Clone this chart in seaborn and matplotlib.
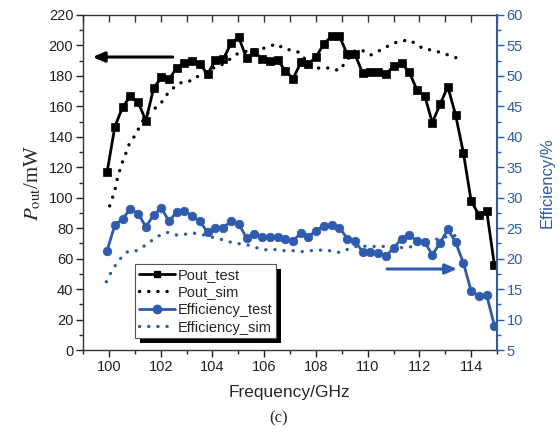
import numpy as np
import pandas as pd
import matplotlib
matplotlib.use("Agg")
import matplotlib.pyplot as plt
from matplotlib.patches import Rectangle
from matplotlib.lines import Line2D
from matplotlib.ticker import MultipleLocator
import seaborn as sns

# ---------------- data ----------------
freq_test = [99.93, 100.23, 100.53, 100.83, 101.13, 101.43, 101.73, 102.03, 102.33, 102.62,
             102.92, 103.22, 103.52, 103.82, 104.12, 104.42, 104.72, 105.02, 105.32, 105.62,
             105.92, 106.22, 106.52, 106.82, 107.12, 107.42, 107.71, 108.01, 108.31, 108.61,
             108.91, 109.21, 109.51, 109.81, 110.11, 110.41, 110.71, 111.01, 111.31, 111.61,
             111.91, 112.21, 112.50, 112.80, 113.10, 113.40, 113.70, 114.00, 114.30, 114.60,
             114.90]
pout_test = [116.7, 146.6, 159.4, 166.8, 162.7, 150.6, 171.9, 179.1, 177.8, 185.4,
             188.7, 189.8, 187.6, 181.3, 190.3, 190.9, 201.4, 205.4, 191.6, 195.9,
             191.1, 189.8, 190.5, 183.4, 178.2, 188.9, 187.6, 192.6, 201.0, 206.2,
             206.2, 194.2, 194.2, 181.7, 182.8, 182.8, 181.0, 186.7, 188.3, 182.4,
             170.7, 166.8, 149.3, 161.4, 172.9, 154.3, 129.6, 97.9, 88.7, 91.5,
             55.8]
eff_test = [21.3, 25.5, 26.5, 28.2, 27.4, 25.2, 27.2, 28.3, 26.1, 27.7,
            27.8, 27.0, 26.1, 24.3, 25.1, 25.1, 26.1, 25.7, 23.4, 24.0,
            23.6, 23.5, 23.6, 23.2, 22.9, 24.2, 23.6, 24.6, 25.4, 25.5,
            25.1, 23.3, 22.9, 21.1, 21.1, 20.9, 20.5, 21.7, 23.3, 23.9,
            22.9, 22.7, 20.6, 22.6, 24.8, 22.7, 19.3, 14.7, 13.8, 14.0,
            9.0]

freq_pout_sim = [100.03, 100.22, 100.33, 100.48, 100.61, 100.77, 101.06, 101.25, 101.51, 101.96,
                 102.28, 102.61, 102.93, 103.19, 103.51, 103.90, 104.35, 104.67, 104.99, 105.25,
                 105.57, 105.90, 106.16, 106.48, 106.80, 107.06, 107.38, 107.70, 108.00, 108.28,
                 108.61, 108.90, 109.21, 109.51, 109.77, 110.12, 110.38, 110.74, 111.06, 111.36,
                 111.61, 111.90, 112.16, 112.48, 112.80, 113.12, 113.41]
pout_sim = [94.6, 104.0, 112.7, 121.5, 127.0, 134.6, 142.3, 148.9, 155.5, 160.9,
            168.6, 174.0, 176.7, 176.7, 180.6, 184.3, 187.2, 190.9, 194.8, 195.9,
            197.0, 197.7, 199.2, 201.0, 197.5, 197.0, 195.3, 188.3, 185.0, 185.4,
            185.0, 183.4, 190.5, 196.6, 197.0, 193.7, 195.9, 199.2, 201.8, 203.0,
            203.6, 200.7, 197.7, 197.0, 195.5, 193.7, 192.0]

freq_eff_sim = [99.90, 100.15, 100.48, 100.74, 101.06, 101.38, 101.70, 102.03, 102.28, 102.61,
                102.93, 103.25, 103.58, 103.90, 104.22, 104.55, 104.87, 105.19, 105.51, 105.83,
                106.16, 106.48, 106.80, 107.12, 107.38, 107.77, 108.16, 108.54, 108.93, 109.32,
                109.64, 110.09, 110.48, 110.86, 111.25, 111.64, 111.96, 112.29, 112.68, 113.06,
                113.41]
eff_sim = [16.2, 18.3, 20.2, 21.2, 21.3, 22.1, 23.1, 24.0, 24.3, 23.9,
           24.0, 24.2, 24.0, 23.6, 23.3, 22.9, 22.5, 22.4, 22.1, 21.6,
           21.4, 21.5, 21.3, 21.3, 21.1, 21.3, 21.4, 21.3, 21.0, 21.7,
           22.1, 22.0, 22.0, 22.0, 21.8, 21.9, 22.6, 22.9, 23.2, 23.6,
           23.8]

series_labels = ["Pout_test", "Pout_sim", "Efficiency_test", "Efficiency_sim"]
x_ticks = [100, 102, 104, 106, 108, 110, 112, 114]
left_ticks = list(range(0, 221, 20))
right_ticks = list(range(5, 61, 5))

df_test = pd.DataFrame({"freq": freq_test, "pout": pout_test, "eff": eff_test})
df_psim = pd.DataFrame({"freq": freq_pout_sim, "pout": pout_sim})
df_esim = pd.DataFrame({"freq": freq_eff_sim, "eff": eff_sim})

# ---------------- style ----------------
sns.set_style("ticks")
plt.rcParams["font.family"] = ["Liberation Sans", "DejaVu Sans"]
plt.rcParams["mathtext.fontset"] = "stix"

BLUE = "#2D5BB0"
BLACK = "#000000"
DOT = (0, (0.05, 2.7))

W, H = 559, 438
fig = plt.figure(figsize=(W / 100, H / 100), dpi=100)
ax = fig.add_axes([83 / W, 1 - 350 / H, (497 - 83) / W, (350 - 15) / H])
ax2 = ax.twinx()

# Pout
sns.lineplot(data=df_test, x="freq", y="pout", ax=ax, color=BLACK, linewidth=2.0,
             marker="s", markersize=5.2, markeredgecolor=BLACK, markeredgewidth=0.5,
             legend=False, zorder=3)
sns.lineplot(data=df_psim, x="freq", y="pout", ax=ax, color=BLACK, linewidth=2.4,
             linestyle=DOT, dash_capstyle="round", legend=False, zorder=2)
# Efficiency
sns.lineplot(data=df_test, x="freq", y="eff", ax=ax2, color=BLUE, linewidth=2.0,
             marker="o", markersize=6.2, markeredgecolor=BLUE, markeredgewidth=0.5,
             legend=False, zorder=3)
sns.lineplot(data=df_esim, x="freq", y="eff", ax=ax2, color=BLUE, linewidth=2.4,
             linestyle=DOT, dash_capstyle="round", legend=False, zorder=2)

# ---------------- axes ----------------
ax.set_xlim(99, 115)
ax.set_ylim(0, 220)
ax2.set_ylim(5, 60)
ax.set_xticks(x_ticks)
ax.set_yticks(left_ticks)
ax2.set_yticks(right_ticks)
ax.xaxis.set_minor_locator(MultipleLocator(1))
ax.yaxis.set_minor_locator(MultipleLocator(10))
ax2.yaxis.set_minor_locator(MultipleLocator(2.5))

ax.tick_params(axis="both", which="major", direction="out", length=5, width=1,
               labelsize=10.5, colors="#222222", pad=2)
ax.tick_params(axis="both", which="minor", direction="out", length=3, width=1)
ax2.tick_params(axis="y", which="major", direction="out", length=5, width=1,
                labelsize=10.5, colors=BLUE, pad=2)
ax2.tick_params(axis="y", which="minor", direction="out", length=3, width=1, colors=BLUE)

for sp in ["left", "bottom", "top"]:
    ax.spines[sp].set_visible(True)
    ax.spines[sp].set_color("#333333")
    ax.spines[sp].set_linewidth(1.0)
ax.spines["right"].set_visible(False)
for sp in ["left", "bottom", "top"]:
    ax2.spines[sp].set_visible(False)
ax2.spines["right"].set_visible(True)
ax2.spines["right"].set_color(BLUE)
ax2.spines["right"].set_linewidth(1.5)

top = ax.secondary_xaxis("top")
top.set_xticks(x_ticks)
top.xaxis.set_minor_locator(MultipleLocator(1))
top.tick_params(axis="x", which="both", direction="in", length=5, width=1,
                labeltop=False, colors="#333333")
top.spines["top"].set_visible(False)

ax.set_xlabel("Frequency/GHz", fontsize=12.5, labelpad=8)
ax.set_ylabel(r"$P_{\mathrm{out}}$/mW", fontsize=15, family="Liberation Serif", labelpad=4)
ax2.set_ylabel("Efficiency/%", fontsize=12, color=BLUE, labelpad=12)

# arrows
ax.annotate("", xy=(99.37, 192.4), xytext=(102.47, 192.4),
            arrowprops=dict(arrowstyle="-|>,head_length=0.7,head_width=0.3",
                            color=BLACK, lw=2.2, shrinkA=0, shrinkB=0))
ax2.annotate("", xy=(113.46, 18.3), xytext=(110.75, 18.3),
             arrowprops=dict(arrowstyle="-|>,head_length=0.7,head_width=0.3",
                             color=BLUE, lw=2.2, shrinkA=0, shrinkB=0))

# legend
handles = [
    Line2D([], [], color=BLACK, lw=2.0, marker="s", markersize=5),
    Line2D([], [], color=BLACK, lw=2.4, linestyle=DOT, dash_capstyle="round"),
    Line2D([], [], color=BLUE, lw=2.0, marker="o", markersize=6),
    Line2D([], [], color=BLUE, lw=2.4, linestyle=DOT, dash_capstyle="round"),
]
leg = ax2.legend(handles, series_labels, loc="upper left",
                 bbox_to_anchor=((135 - 83) / (497 - 83), 1 - (264 - 15) / (350 - 15)),
                 frameon=True, fancybox=False, edgecolor="#555555", framealpha=1,
                 fontsize=10.5, handlelength=2.5, handletextpad=0.2, borderpad=0.25,
                 labelspacing=0.25, borderaxespad=0)
leg.get_frame().set_linewidth(0.8)
leg.set_zorder(10)

fig.canvas.draw()
bb = leg.get_window_extent()
shadow = Rectangle((bb.x0 + 5, bb.y0 - 5), bb.width, bb.height, transform=None,
                   facecolor="black", edgecolor="none", zorder=9)
ax2.add_artist(shadow)

fig.text(279 / W, 1 - 418 / H, "(c)", ha="center", va="center",
         fontsize=12, family="Liberation Serif")

fig.savefig("out.png", dpi=100)
